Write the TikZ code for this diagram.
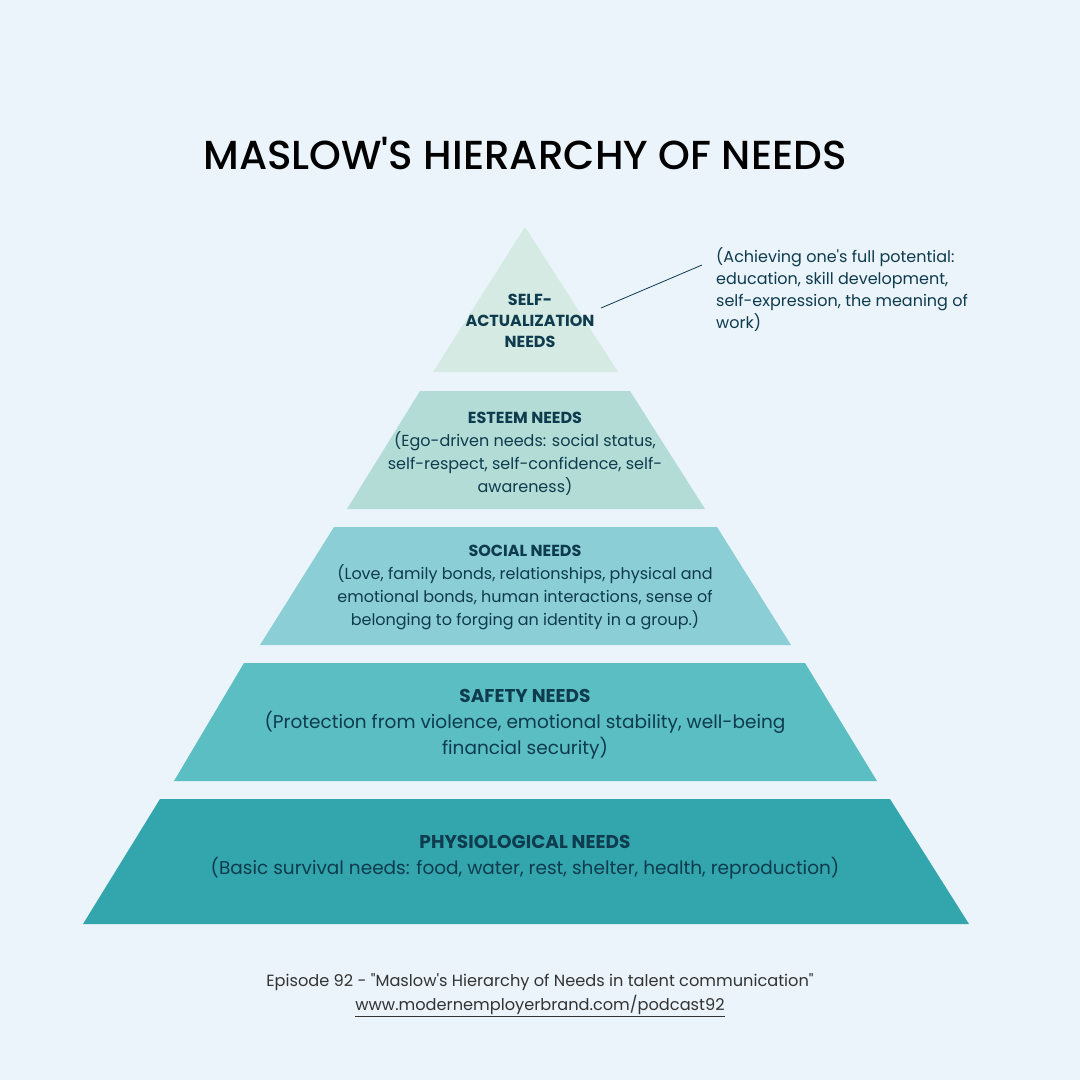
\documentclass[tikz,border=0pt]{standalone}
\usepackage{fontspec}
\setmainfont{Poppins}
\newfontfamily\textfam{Poppins}
\newfontfamily\titlefont{Poppins}[UprightFont=* Medium]
\usepackage{tikz}
\usetikzlibrary{positioning, calc}
\definecolor{bg}{HTML}{EBF4FB}
\definecolor{ink}{HTML}{0E3B4E}
\definecolor{lvlA}{HTML}{D4EAE3}
\definecolor{lvlB}{HTML}{B2DCD5}
\definecolor{lvlC}{HTML}{8BCED6}
\definecolor{lvlD}{HTML}{5BBEC2}
\definecolor{lvlE}{HTML}{33A6AD}

\begin{document}
\begin{tikzpicture}[x=1pt, y=-1pt,
        every node/.style={text=ink, inner sep=0pt},
        head/.style={font=\textfam\bfseries\fontsize{16}{21}\selectfont, align=center},
        body/.style={font=\textfam\fontsize{16}{23}\selectfont, align=center},
        bigbody/.style={font=\textfam\fontsize{18.5}{26}\selectfont, align=center}]
      % background and page size
      \fill[bg] (0,0) rectangle (1080,1080);
      \useasboundingbox (0,0) rectangle (1080,1080);
      \node[font=\titlefont\fontsize{40.5}{50}\selectfont, text=black] (title) at (525,153)
        {MASLOW'S HIERARCHY OF NEEDS};
      % pyramid levels
      \fill[lvlA] (525,227) -- (618,372) -- (433,372) -- cycle;
      \fill[lvlB] (420,391) -- (630,391) -- (705,509) -- (347,509) -- cycle;
      \fill[lvlC] (334,527) -- (717,527) -- (791,645) -- (260,645) -- cycle;
      \fill[lvlD] (244,663) -- (805,663) -- (877,781) -- (174,781) -- cycle;
      \fill[lvlE] (160,799) -- (890,799) -- (969,924) -- (83,924) -- cycle;
      % level texts
      \node[head] (self) at (530,321) {SELF-\\ACTUALIZATION\\NEEDS};
      \node[body, align=left, anchor=north west, font=\textfam\fontsize{16}{22}\selectfont] (selfnote) at (716,247)
        {(Achieving one's full potential:\\education, skill development,\\self-expression, the meaning of\\work)};
      \coordinate (selfend) at (601,308);
      \coordinate (noteend) at (702,265);
      \draw[ink, line width=0.8pt] (selfend) -- (noteend);
      \node[body] (esteem) at (525,454)
        {\textbf{ESTEEM NEEDS}\\(Ego-driven needs: social status,\\self-respect, self-confidence, self-\\awareness)};
      \node[body] (social) at (525,587)
        {\textbf{SOCIAL NEEDS}\\(Love, family bonds, relationships, physical and\\emotional bonds, human interactions, sense of\\belonging to forging an identity in a group.)};
      \node[bigbody] (safety) at (525,724)
        {\textbf{SAFETY NEEDS}\\(Protection from violence, emotional stability, well-being\\financial security)};
      \node[bigbody] (physio) at (525,857)
        {\textbf{PHYSIOLOGICAL NEEDS}\\(Basic survival needs: food, water, rest, shelter, health, reproduction)};
      % footer
      \node[font=\textfam\fontsize{16.2}{24}\selectfont, align=center, text=black!80] (footer) at (540,995)
        {Episode 92 - "Maslow's Hierarchy of Needs in talent communication"\\\underline{www.modernemployerbrand.com/podcast92}};
    \end{tikzpicture}
\end{document}
